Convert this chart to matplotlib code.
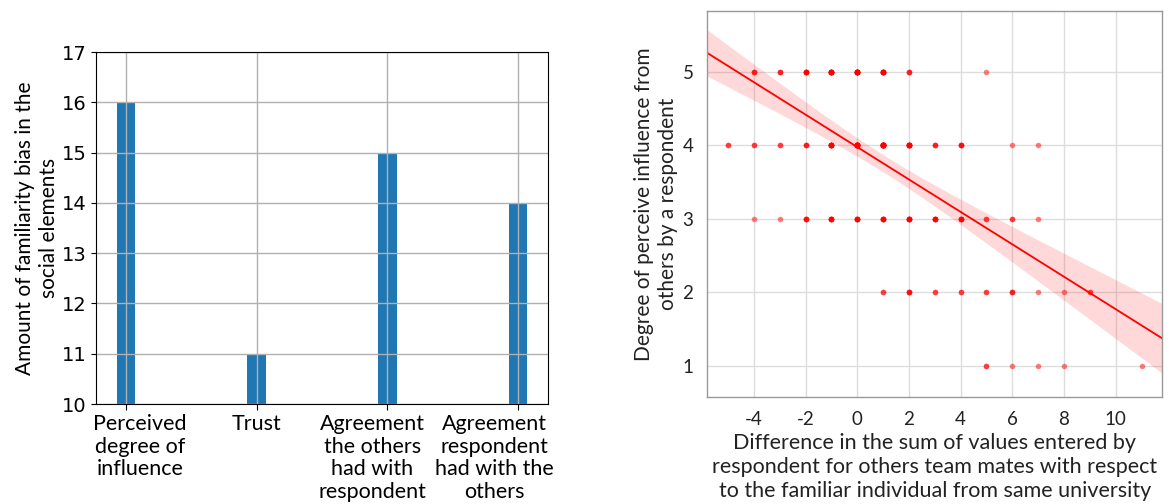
import numpy as np
import matplotlib
matplotlib.use('Agg')
import matplotlib.pyplot as plt
import matplotlib.transforms as mtransforms

# left panel: familiarity bias per social element
categories = ['Perceived\ndegree of\ninfluence', 'Trust',
              'Agreement\nthe others\nhad with\nrespondent',
              'Agreement\nrespondent\nhad with the\nothers']
bias_counts = [16, 11, 15, 14]

# right panel: (x, y, how many respondents share that point)
diff_x = [-4, -3, -2, -1, 0, 1, 2, 5,
          -5, -4, -3, -2, -1, 0, 1, 2, 3, 4, 6, 7,
          -4, -3, -2, -1, 0, 1, 2, 3, 4, 5, 6, 7,
          1, 2, 3, 4, 5, 6, 7, 8, 9,
          5, 6, 7, 8, 11]
influence_y = [5, 5, 5, 5, 5, 5, 5, 5,
               4, 4, 4, 4, 4, 4, 4, 4, 4, 4, 4, 4,
               3, 3, 3, 3, 3, 3, 3, 3, 3, 3, 3, 3,
               2, 2, 2, 2, 2, 2, 2, 2, 2,
               1, 1, 1, 1, 1]
point_counts = [3, 3, 6, 12, 14, 10, 3, 1,
                2, 2, 2, 3, 10, 18, 20, 11, 3, 4, 1, 1,
                1, 1, 4, 6, 6, 6, 7, 6, 5, 2, 2, 1,
                2, 4, 2, 2, 2, 3, 1, 1, 2,
                2, 1, 1, 1, 1]

label_font = 'Lato'
plt.rcParams['axes.unicode_minus'] = False

fig = plt.figure(figsize=(11.72, 5.04), dpi=100)

# ---- bar chart ----
ax1 = fig.add_axes([0.0819, 0.1984, 0.3857, 0.698])
ax1.bar(categories, bias_counts, width=0.14, color='#1f77b4')
ax1.set_ylim(10, 17)
ax1.grid(True, color='#b0b0b0', linewidth=1.0)
ax1.tick_params(axis='y', labelsize=14)
ax1.tick_params(axis='x', length=4)
# the labels in the original sit a little off their ticks
label_shift_px = [14, 0, -15, -24]
for lab, dx in zip(ax1.get_xticklabels(), label_shift_px):
    lab.set_fontfamily(label_font)
    lab.set_fontsize(15.5)
    lab.set_linespacing(1.15)
    lab.set_transform(lab.get_transform() +
                      mtransforms.ScaledTranslation(dx / 100, 0, fig.dpi_scale_trans))
ax1.set_ylabel('Amount of familiarity bias in the\nsocial elements',
               fontfamily=label_font, fontsize=15, linespacing=1.25, labelpad=2)

# ---- scatter with linear fit ----
ax2 = fig.add_axes([0.6035, 0.2129, 0.3882, 0.7659])
x_all = np.repeat(diff_x, point_counts).astype(float)
y_all = np.repeat(influence_y, point_counts).astype(float)

n = len(x_all)
xm, ym = x_all.mean(), y_all.mean()
sxx = ((x_all - xm) ** 2).sum()
slope = ((x_all - xm) * (y_all - ym)).sum() / sxx
icpt = ym - slope * xm
resid = y_all - (icpt + slope * x_all)
s = np.sqrt((resid ** 2).sum() / (n - 2))

xs = np.linspace(-5.8, 11.8, 200)
fit = icpt + slope * xs
half = 1.96 * s * np.sqrt(1.0 / n + (xs - xm) ** 2 / sxx)

ax2.fill_between(xs, fit - half, fit + half, color='red', alpha=0.15, linewidth=0)
ax2.plot(xs, fit, color='red', linewidth=1.3)
ax2.scatter(x_all, y_all, s=16, color='red', alpha=0.5, linewidths=0)

ax2.set_xlim(-5.8, 11.8)
ax2.set_ylim(0.58, 5.83)
ax2.set_xticks([-4, -2, 0, 2, 4, 6, 8, 10])
ax2.set_yticks([1, 2, 3, 4, 5])
ax2.grid(True, color='#dddddd', linewidth=1.0)
ax2.set_axisbelow(True)
for sp in ax2.spines.values():
    sp.set_color('#999999')
    sp.set_linewidth(1.0)
ax2.tick_params(length=0, pad=10, labelcolor='#222222')
for lab in ax2.get_xticklabels() + ax2.get_yticklabels():
    lab.set_fontfamily(label_font)
    lab.set_fontsize(13.5)
ax2.set_xlabel('Difference in the sum of values entered by\n'
               'respondent for others team mates with respect\n'
               'to the familiar individual from same university',
               fontfamily=label_font, fontsize=15.5, linespacing=1.25, color='#222222')
ax2.set_ylabel('Degree of perceive influence from\nothers by a respondent',
               fontfamily=label_font, fontsize=15, linespacing=1.25, color='#222222',
               labelpad=3)

fig.savefig('out.png', dpi=100)
